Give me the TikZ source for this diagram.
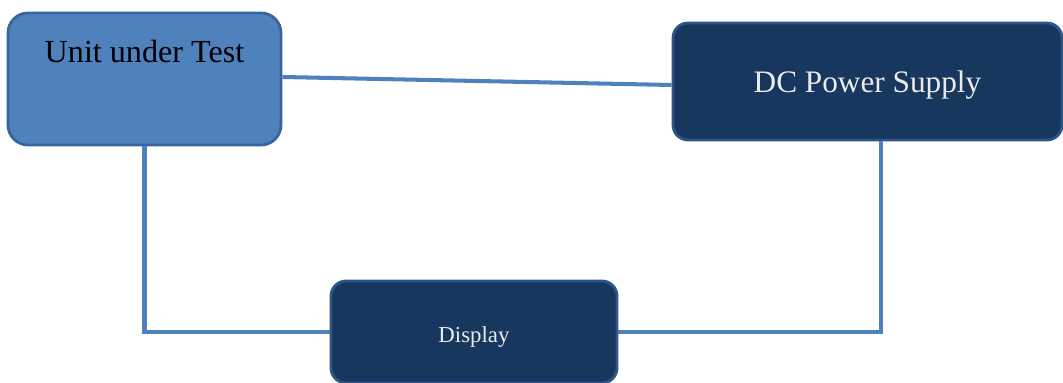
\documentclass[tikz,border=0pt]{standalone}
\usepackage{fontspec}
\setmainfont{Liberation Serif}
\usepackage{tikz}
\definecolor{boxblue}{HTML}{4F81BD}
\definecolor{boxedge}{HTML}{3A659A}
\definecolor{navy}{HTML}{17375E}
\definecolor{navyedge}{HTML}{2D5686}
\tikzset{
  lightbox/.style={draw=boxedge, line width=1.6pt, fill=boxblue, rounded corners=0.4cm, inner sep=0pt},
  darkbox/.style={draw=navyedge, line width=1.6pt, fill=navy, text=white!92!black, rounded corners=0.3cm, inner sep=0pt},
  wire/.style={draw=boxblue, line width=2.3pt}
}
\begin{document}
\begin{tikzpicture}[node distance=2cm, auto]

        \useasboundingbox (0,0) rectangle (21.26,7.66);

        % Unit under test, text near the top
        \node[lightbox, minimum width=5.46cm, text height=1.0cm, text depth=1.64cm,
              font=\fontsize{18.3}{20}\selectfont] (uut) at (2.89,6.08) {Unit under Test};

        % DC power supply
        \node[darkbox, right of=uut, node distance=14.46cm, yshift=-0.05cm,
              minimum width=7.78cm, minimum height=2.34cm, text height=0.56cm, text depth=0.1cm,
              font=\fontsize{17.8}{20}\selectfont] (dc) {DC Power Supply};

        % Display
        \node[darkbox, right of=uut, node distance=6.59cm, yshift=-5.06cm,
              minimum width=5.72cm, minimum height=2.04cm, text height=0.5cm, text depth=0.06cm,
              font=\fontsize{13}{15}\selectfont] (disp) {Display};

        % Wires
        \draw[wire] ([yshift=0.04cm]uut.east) -- ([yshift=-0.07cm]dc.west);
        \draw[wire] (uut.south) |- (disp.west);
        \draw[wire] (disp.east) -| ([xshift=0.27cm]dc.south);

        \end{tikzpicture}
\end{document}
